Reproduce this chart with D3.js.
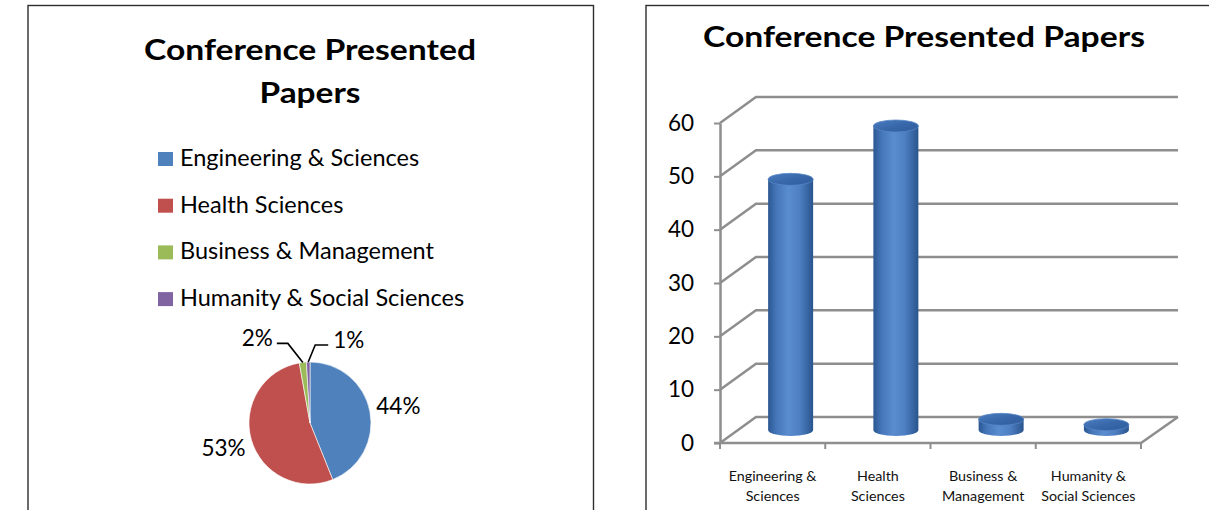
<!DOCTYPE html>
<html>
<head>
<meta charset="utf-8">
<script src="https://cdn.jsdelivr.net/npm/d3@7/dist/d3.min.js"></script>
<style>
  html, body { margin: 0; padding: 0; background: #fff; }
  svg { display: block; font-family: Lato, "Open Sans", sans-serif; }
</style>
</head>
<body>
<svg id="chart" width="1209" height="510"></svg>
<script>

var categories = [
    "Engineering & Sciences",
    "Health Sciences",
    "Business & Management",
    "Humanity & Social Sciences"
];

var categoryLines = [
    ["Engineering &", "Sciences"],
    ["Health", "Sciences"],
    ["Business &", "Management"],
    ["Humanity &", "Social Sciences"]
];

var paperCounts = [47, 57, 2, 1];

var sliceColors = ["#4f81bd", "#c0504d", "#9bbb59", "#8064a2"];

var yTicks = [0, 10, 20, 30, 40, 50, 60];

var titleText = "Conference Presented Papers";
var titleLines = ["Conference Presented", "Papers"];

var svg = d3.select("#chart");

// panel frames
svg.append("rect")
    .attr("x", 28).attr("y", 5.5).attr("width", 565.5).attr("height", 600)
    .attr("fill", "none").attr("stroke", "#2e2e2e").attr("stroke-width", 1.4);
svg.append("rect")
    .attr("x", 646).attr("y", 5.5).attr("width", 620).attr("height", 600)
    .attr("fill", "none").attr("stroke", "#2e2e2e").attr("stroke-width", 1.4);

drawPie();
drawBars();

function drawPie() {
    var g = svg.append("g");

    // title, two lines
    g.selectAll("text.title")
        .data(titleLines)
        .enter()
        .append("text")
        .attr("class", "title")
        .attr("x", 310)
        .attr("y", function(d, i){ return 60 + i * 43; })
        .attr("text-anchor", "middle")
        .attr("font-size", 29)
        .attr("font-weight", "bold")
        .attr("textLength", function(d, i){ return i == 0 ? 332 : 101; })
        .attr("lengthAdjust", "spacingAndGlyphs")
        .text(function(d){ return d; });

    // legend
    var legend = g.selectAll("g.legend")
        .data(categories)
        .enter()
        .append("g")
        .attr("class", "legend")
        .attr("transform", function(d, i){ return "translate(158," + (166 + i * 46.7) + ")"; });
    legend.append("rect")
        .attr("x", 0).attr("y", -14)
        .attr("width", 15).attr("height", 14)
        .attr("fill", function(d, i){ return sliceColors[i]; });
    legend.append("text")
        .attr("x", 22)
        .attr("y", 0)
        .attr("font-size", 23.5)
        .attr("fill", "#000")
        .text(function(d){ return d; });

    // pie
    var cx = 310, cy = 423, r = 61;
    var total = d3.sum(paperCounts);
    var pie = d3.pie().sort(null).value(function(d){ return d; });
    var arcs = pie(paperCounts);
    var arc = d3.arc().innerRadius(0).outerRadius(r);
    var labelArc = d3.arc().innerRadius(90).outerRadius(90);

    var pg = g.append("g").attr("transform", "translate(" + cx + "," + cy + ")");
    pg.selectAll("path")
        .data(arcs)
        .enter()
        .append("path")
        .attr("d", arc)
        .attr("fill", function(d, i){ return sliceColors[i]; })
        .attr("stroke", "#fff")
        .attr("stroke-width", 0.6);

    // leader line layout for the thin slices: elbow offset and run
    var leaders = { 2: { ex: -15, ey: -19, run: -11 }, 3: { ex: 7, ey: -17, run: 13 } };

    arcs.forEach(function(a, i){
        var pct = Math.round(a.value / total * 100) + "%";
        if (leaders[i]) {
            var mid = (a.startAngle + a.endAngle) / 2;
            var px = Math.sin(mid) * r, py = -Math.cos(mid) * r;
            var L = leaders[i];
            var ex = px + L.ex, ey = py + L.ey;
            pg.append("path")
                .attr("d", "M" + px + "," + py + "L" + ex + "," + ey + "L" + (ex + L.run) + "," + ey)
                .attr("fill", "none")
                .attr("stroke", "#000")
                .attr("stroke-width", 1.6);
            pg.append("text")
                .attr("x", ex + L.run + (L.run < 0 ? -4 : 5))
                .attr("y", ey + 3)
                .attr("text-anchor", L.run < 0 ? "end" : "start")
                .attr("font-size", 22.5)
                .attr("fill", "#000")
                .text(pct);
        } else {
            var c = labelArc.centroid(a);
            pg.append("text")
                .attr("x", c[0])
                .attr("y", c[1])
                .attr("dy", "0.35em")
                .attr("text-anchor", "middle")
                .attr("font-size", 22.5)
                .attr("fill", "#000")
                .text(pct);
        }
    });
}

function drawBars() {
    var g = svg.append("g");
    var depthX = 36, depthY = -26;

    g.append("text")
        .attr("x", 924)
        .attr("y", 47)
        .attr("text-anchor", "middle")
        .attr("font-size", 29)
        .attr("font-weight", "bold")
        .attr("textLength", 442)
        .attr("lengthAdjust", "spacingAndGlyphs")
        .text(titleText);

    var x = d3.scaleBand().domain(categories).range([720, 1141]);
    var y = d3.scaleLinear().domain([0, 60]).range([443, 123]);
    var backRight = x.range()[1] + depthX + 1;

    var gridColor = "#8e8e8e";

    // gridlines on the side/back walls
    g.selectAll("path.grid")
        .data(yTicks)
        .enter()
        .append("path")
        .attr("class", "grid")
        .attr("d", function(d){
            var yf = y(d);
            return "M" + x.range()[0] + "," + yf +
                   "L" + (x.range()[0] + depthX) + "," + (yf + depthY) +
                   "L" + backRight + "," + (yf + depthY);
        })
        .attr("fill", "none")
        .attr("stroke", gridColor)
        .attr("stroke-width", 2.5);

    // floor right edge and front edge
    g.append("path")
        .attr("d", "M" + (x.range()[0] - 6) + "," + y(0) + "L" + x.range()[1] + "," + y(0) +
                   "L" + backRight + "," + (y(0) + depthY))
        .attr("fill", "none")
        .attr("stroke", gridColor)
        .attr("stroke-width", 2.5);

    // y axis
    var yAxis = g.append("g")
        .attr("transform", "translate(" + x.range()[0] + ",0)")
        .call(d3.axisLeft(y).tickValues(yTicks).tickSize(6).tickSizeOuter(0).tickPadding(20));
    yAxis.select(".domain").attr("stroke", gridColor).attr("stroke-width", 2.5);
    yAxis.selectAll(".tick line").attr("stroke", gridColor).attr("stroke-width", 2);
    yAxis.selectAll(".tick text")
        .attr("font-size", 22.5)
        .attr("font-family", "Lato, 'Open Sans', sans-serif")
        .attr("fill", "#000");

    // x tick marks at category boundaries
    var bounds = categories.map(function(c){ return x(c); }).concat([x.range()[1]]);
    g.selectAll("line.xtick")
        .data(bounds)
        .enter()
        .append("line")
        .attr("class", "xtick")
        .attr("x1", function(d){ return d; })
        .attr("x2", function(d){ return d; })
        .attr("y1", y(0))
        .attr("y2", y(0) + 6)
        .attr("stroke", gridColor)
        .attr("stroke-width", 2);

    // x labels
    var xl = g.selectAll("text.xlab")
        .data(categoryLines)
        .enter()
        .append("text")
        .attr("class", "xlab")
        .attr("text-anchor", "middle")
        .attr("font-size", 14.3)
        .attr("fill", "#111")
        .attr("transform", function(d, i){
            return "translate(" + (x(categories[i]) + x.bandwidth() / 2) + ",481)";
        });
    xl.selectAll("tspan")
        .data(function(d){ return d; })
        .enter()
        .append("tspan")
        .attr("x", 0)
        .attr("y", function(d, i){ return i * 20; })
        .text(function(d){ return d; });

    // cylinder gradients
    var defs = svg.append("defs");
    var body = defs.append("linearGradient").attr("id", "cylBody")
        .attr("x1", "0%").attr("x2", "100%").attr("y1", "0%").attr("y2", "0%");
    body.append("stop").attr("offset", "0%").attr("stop-color", "#2b5791");
    body.append("stop").attr("offset", "18%").attr("stop-color", "#4476b9");
    body.append("stop").attr("offset", "45%").attr("stop-color", "#5a8dd0");
    body.append("stop").attr("offset", "70%").attr("stop-color", "#4d7fc2");
    body.append("stop").attr("offset", "100%").attr("stop-color", "#2a558e");
    var top = defs.append("linearGradient").attr("id", "cylTop")
        .attr("x1", "0%").attr("x2", "100%").attr("y1", "0%").attr("y2", "100%");
    top.append("stop").attr("offset", "0%").attr("stop-color", "#4a7dc0");
    top.append("stop").attr("offset", "50%").attr("stop-color", "#3868aa");
    top.append("stop").attr("offset", "100%").attr("stop-color", "#2f5c9c");

    // cylinders sit at half depth
    var rx = 22.5, ry = 6;
    var bars = g.selectAll("g.bar")
        .data(paperCounts)
        .enter()
        .append("g")
        .attr("class", "bar")
        .attr("transform", function(d, i){
            return "translate(" + (x(categories[i]) + x.bandwidth() / 2 + depthX / 2) + "," + (depthY / 2) + ")";
        });
    bars.append("path")
        .attr("d", function(d){
            var yt = y(d), yb = y(0);
            return "M" + (-rx) + "," + yt + "L" + (-rx) + "," + yb +
                   "A" + rx + "," + ry + " 0 0 0 " + rx + "," + yb +
                   "L" + rx + "," + yt + "Z";
        })
        .attr("fill", "url(#cylBody)");
    bars.append("ellipse")
        .attr("cx", 0)
        .attr("cy", function(d){ return y(d); })
        .attr("rx", rx)
        .attr("ry", ry)
        .attr("fill", "url(#cylTop)")
        .attr("stroke", "#5585c6")
        .attr("stroke-width", 0.8);
}

</script>
</body>
</html>
